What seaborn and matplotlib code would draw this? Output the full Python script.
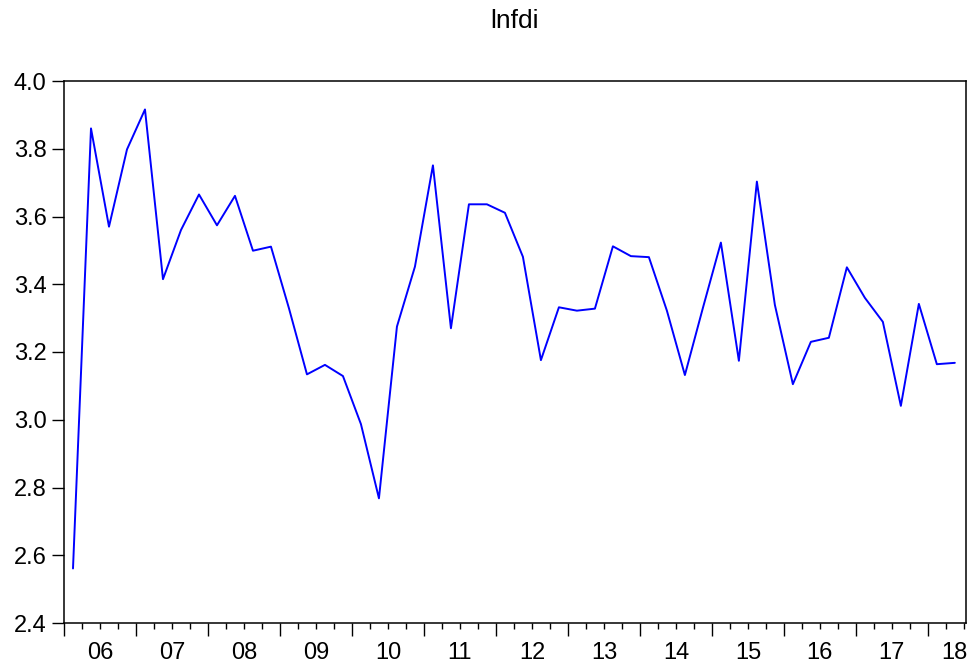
import matplotlib
matplotlib.use("Agg")
import matplotlib.pyplot as plt
import matplotlib.transforms as mtransforms
from matplotlib.ticker import FixedLocator, NullFormatter
import numpy as np
import pandas as pd
import seaborn as sns

# quarterly series 2006Q1 - 2018Q2
lnfdi = [
    2.561, 3.860, 3.570, 3.798, 3.916, 3.415, 3.560, 3.665, 3.574, 3.661,
    3.499, 3.511, 3.329, 3.134, 3.162, 3.129, 2.987, 2.768, 3.275, 3.452,
    3.751, 3.270, 3.636, 3.636, 3.611, 3.481, 3.176, 3.332, 3.322, 3.328,
    3.512, 3.483, 3.480, 3.322, 3.132, 3.330, 3.523, 3.174, 3.703, 3.339,
    3.105, 3.230, 3.242, 3.450, 3.360, 3.289, 3.041, 3.342, 3.164, 3.168,
]
start_year = 2006
years = list(range(2006, 2019))
year_labels = ["06", "07", "08", "09", "10", "11", "12", "13", "14", "15", "16", "17", "18"]
y_ticks = [2.4, 2.6, 2.8, 3.0, 3.2, 3.4, 3.6, 3.8, 4.0]

# x position = middle of each quarter
t = [start_year + (i + 0.5) / 4 for i in range(len(lnfdi))]
df = pd.DataFrame({"t": t, "lnfdi": lnfdi})

sns.set_style("white", {"text.color": "black", "xtick.color": "black",
                        "ytick.color": "black", "axes.edgecolor": "black"})
plt.rcParams["font.family"] = ["Liberation Sans", "DejaVu Sans"]

fig = plt.figure(figsize=(9.73, 6.71), dpi=100)
ax = fig.add_axes([64 / 973, 48 / 671, 902 / 973, 542 / 671])

sns.lineplot(data=df, x="t", y="lnfdi", color="#0000FF", linewidth=1.4, ax=ax)

ax.set_xlim(2006, 2018.53)
ax.set_ylim(2.4, 4.0)
ax.set_xlabel("")
ax.set_ylabel("")
ax.set_title("lnfdi", fontsize=19, pad=38, color="black")

# y axis
ax.set_yticks(y_ticks)
ax.set_yticklabels([f"{v:.1f}" for v in y_ticks], fontsize=17)
ax.tick_params(axis="y", direction="out", length=8.5, width=1, pad=4, left=True,
               colors="black")

# x axis: year boundaries as long ticks, quarters as short ticks
ax.xaxis.set_major_locator(FixedLocator(years))
ax.xaxis.set_major_formatter(NullFormatter())
quarters = [y + q / 4 for y in years for q in (1, 2, 3) if y + q / 4 < 2018.53]
ax.xaxis.set_minor_locator(FixedLocator(quarters))
ax.tick_params(axis="x", which="major", direction="out", length=9, width=1, bottom=True,
               colors="black")
ax.tick_params(axis="x", which="minor", direction="out", length=4.5, width=1, bottom=True,
               colors="black")

# year labels centred on each year
trans = mtransforms.blended_transform_factory(ax.transData, ax.transAxes)
for yr, lab in zip(years, year_labels):
    xpos = yr + 0.5 if yr < 2018 else 2018.37
    ax.text(xpos, -0.035, lab, transform=trans, ha="center", va="top",
            fontsize=17, color="black")

for s in ax.spines.values():
    s.set_color("black")
    s.set_linewidth(1.1)

fig.savefig("out.png", dpi=100, facecolor="white")
